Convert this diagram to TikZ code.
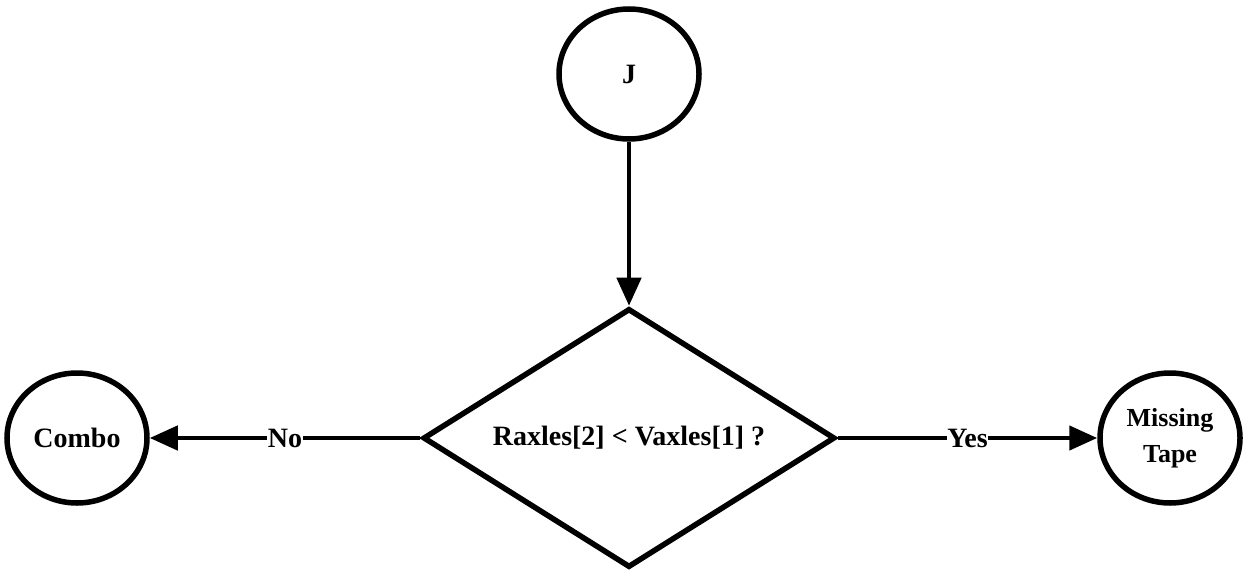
\documentclass[tikz,border=0pt]{standalone}
\usepackage{fontspec}
\setmainfont{Liberation Serif}
\usetikzlibrary{shapes.geometric,arrows.meta}
\begin{document}
\begin{tikzpicture}[x=1pt,y=-1pt,
  every node/.style={font=\bfseries\fontsize{28}{32}\selectfont},
  term/.style={ellipse,draw,line width=5.5pt,minimum width=140pt,minimum height=130pt,inner sep=0pt,align=center},
  decide/.style={diamond,draw,line width=5.5pt,minimum width=412pt,minimum height=259pt,inner sep=0pt,aspect=1.6},
  conn/.style={line width=4.5pt,-{Triangle[length=28pt,width=24pt]}},
  lbl/.style={fill=white,inner sep=0.5pt}]
\useasboundingbox (0,0) rectangle (1246,572);
\node[term] (J) at (629,74) {J};
\node[decide] (D) at (629,438) {Raxles[2] < Vaxles[1] ?};
\node[term] (C) at (77,438) {Combo};
\node[term,font=\bfseries\fontsize{26}{36}\selectfont] (M) at (1170,438) {Missing\\Tape};
\draw[conn] (J) -- (D);
\draw[conn] (D.west) -- node[lbl]{No} (C);
\draw[conn] (D.east) -- node[lbl]{Yes} (M);
\end{tikzpicture}
\end{document}
